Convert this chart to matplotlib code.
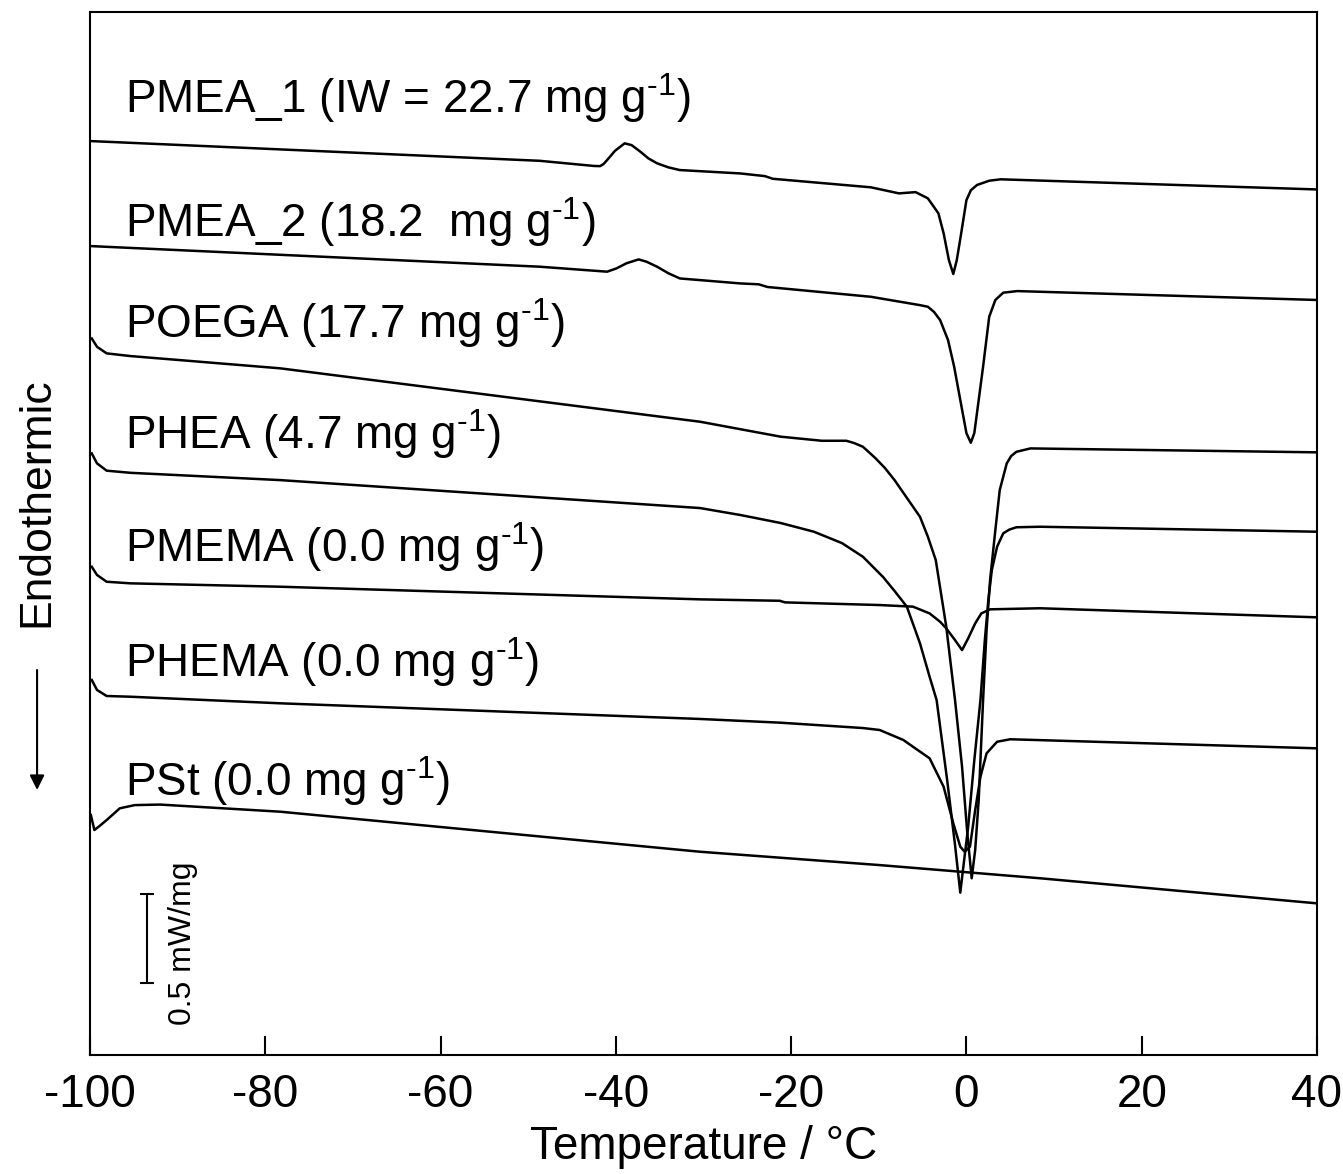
import matplotlib
matplotlib.use("Agg")
import matplotlib.pyplot as plt

# ── Data (heat flow in mW/mg, curves stacked) ──

PMEA1_T = [-100, -48.7, -42.5, -41.8, -41.4, -41.0, -40.1, -39.0, -38.2, -37.2,
           -36.3, -35.3, -34.0, -32.7, -25.8, -23.0, -22.1, -10.9, -7.7, -5.8,
           -4.4, -3.2, -2.6, -2.0, -1.5, -1.1, -0.6, 0.0, 0.5, 1.2,
           2.6, 3.9, 40]
PMEA1_HF = [5.135, 5.024, 4.995, 4.994, 5.006, 5.028, 5.080, 5.122, 5.112, 5.075,
            5.038, 5.010, 4.987, 4.972, 4.953, 4.938, 4.923, 4.875, 4.841, 4.848,
            4.813, 4.729, 4.616, 4.466, 4.388, 4.466, 4.616, 4.803, 4.858, 4.888,
            4.912, 4.920, 4.863]

PMEA2_T = [-100, -48.7, -41.0, -39.9, -38.8, -37.4, -36.5, -35.3, -34.0, -32.7,
           -25.8, -23.7, -22.7, -10.9, -5.3, -4.4, -3.7, -3.0, -2.1, -1.4,
           -0.7, 0.0, 0.5, 0.9, 1.4, 1.9, 2.6, 3.3, 4.2, 5.8, 40]
PMEA2_HF = [4.545, 4.429, 4.401, 4.420, 4.448, 4.470, 4.457, 4.429, 4.392, 4.363,
            4.335, 4.330, 4.315, 4.260, 4.213, 4.204, 4.175, 4.129, 4.017, 3.867,
            3.680, 3.494, 3.440, 3.494, 3.680, 3.867, 4.148, 4.242, 4.283, 4.292, 4.242]

POEGA_T = [-99.8, -99.2, -98.1, -95.4, -78.3, -30.4, -21.2, -16.5, -13.7, -12.8,
           -11.8, -10.4, -9.3, -8.2, -5.3, -4.4, -3.5, -2.3, -1.3, -0.5,
           0.1, 0.6, 1.0, 1.4, 1.9, 2.3, 2.7, 3.3, 3.8, 4.6,
           5.1, 5.7, 7.3, 40]
POEGA_HF = [4.026, 3.979, 3.942, 3.927, 3.858, 3.558, 3.474, 3.451, 3.451, 3.438,
            3.417, 3.354, 3.298, 3.230, 3.024, 2.912, 2.781, 2.406, 1.994, 1.620,
            1.246, 0.993, 1.152, 1.433, 1.994, 2.388, 2.669, 2.949, 3.174, 3.324,
            3.365, 3.389, 3.408, 3.386]

PHEA_T = [-99.8, -99.2, -98.1, -95.4, -78.3, -30.4, -25.8, -21.2, -17.4, -14.2,
          -11.8, -9.5, -8.2, -6.8, -5.3, -4.2, -3.4, -2.2, -1.3, -0.7,
          -0.35, 0.2, 0.9, 1.6, 2.1, 2.5, 2.9, 3.5, 4.2, 4.9,
          5.7, 8.4, 40]
PHEA_HF = [3.380, 3.324, 3.283, 3.271, 3.230, 3.073, 3.034, 2.989, 2.940, 2.876,
           2.799, 2.685, 2.607, 2.519, 2.313, 2.125, 1.994, 1.545, 1.180, 0.912,
           1.058, 1.283, 1.657, 1.994, 2.331, 2.556, 2.725, 2.856, 2.931, 2.952,
           2.965, 2.968, 2.940]

PMEMA_T = [-99.8, -99.2, -98.1, -95.4, -78.3, -30.4, -21.3, -20.7, -9.9, -6.1,
           -4.2, -3.0, -2.3, -1.3, -0.5, 0.2, 1.0, 1.7, 2.7, 8.4, 40]
PMEMA_HF = [2.743, 2.697, 2.659, 2.650, 2.631, 2.560, 2.552, 2.543, 2.528, 2.519,
            2.481, 2.434, 2.397, 2.331, 2.275, 2.341, 2.425, 2.481, 2.504, 2.510, 2.459]

PHEMA_T = [-99.8, -99.2, -98.1, -95.4, -78.3, -30.4, -21.2, -11.8, -9.9, -7.2,
           -6.1, -4.2, -2.6, -1.5, -0.7, -0.2, 0.4, 1.0, 1.6, 2.3,
           3.5, 5.0, 40]
PHEMA_HF = [2.107, 2.051, 2.017, 2.013, 1.976, 1.888, 1.867, 1.837, 1.826, 1.770,
            1.732, 1.667, 1.507, 1.302, 1.170, 1.142, 1.170, 1.376, 1.563, 1.695,
            1.760, 1.774, 1.723]

PST_T = [-99.9, -99.5, -98.9, -98.1, -96.6, -94.9, -92.0, -78.3, -30.4, -9.9, 8.4, 40]
PST_HF = [1.348, 1.264, 1.287, 1.320, 1.386, 1.404, 1.407, 1.367, 1.142, 1.067, 0.993, 0.852]

LABELS = [
    r"PMEA_1 (IW = 22.7 mg g$^{\text{-1}}$)",
    r"PMEA_2 (18.2  mg g$^{\text{-1}}$)",
    r"POEGA (17.7 mg g$^{\text{-1}}$)",
    r"PHEA (4.7 mg g$^{\text{-1}}$)",
    r"PMEMA (0.0 mg g$^{\text{-1}}$)",
    r"PHEMA (0.0 mg g$^{\text{-1}}$)",
    r"PSt (0.0 mg g$^{\text{-1}}$)",
]
XTICKS = [-100, -80, -60, -40, -20, 0, 20, 40]
SCALE_BAR = 0.5  # mW/mg

# ── Style ──
plt.rcParams.update({
    "font.family": ["Liberation Sans", "DejaVu Sans"],
    "mathtext.fontset": "custom",
    "mathtext.rm": "Liberation Sans",
    "mathtext.it": "Liberation Sans:italic",
    "mathtext.bf": "Liberation Sans:bold",
    "axes.unicode_minus": False,
    "axes.linewidth": 1.5,
})

curves = [(PMEA1_T, PMEA1_HF), (PMEA2_T, PMEA2_HF), (POEGA_T, POEGA_HF),
          (PHEA_T, PHEA_HF), (PMEMA_T, PMEMA_HF), (PHEMA_T, PHEMA_HF),
          (PST_T, PST_HF)]
label_y = [5.294, 4.597, 4.026, 3.404, 2.768, 2.125, 1.455]

fig = plt.figure(figsize=(13.43, 11.74), dpi=100)
ax = fig.add_axes([0.06701, 0.10136, 0.91363, 0.88842])

for (t, hf) in curves:
    ax.plot(t, hf, color="black", lw=1.8, solid_joinstyle="round")

for lab, ly in zip(LABELS, label_y):
    ax.text(-96.0, ly, lab, fontsize=33, ha="left", va="baseline")

# scale bar
ax.errorbar([-93.5], [0.654], yerr=SCALE_BAR / 2, color="black",
            lw=1.5, capsize=4.7, capthick=1.5)
ax.text(-89.4, 0.629, f"{SCALE_BAR} mW/mg", rotation=90, fontsize=23,
        ha="center", va="center")

ax.set_xlim(-100, 40)
ax.set_ylim(0, 5.86)
ax.set_yticks([])
ax.set_xticks(XTICKS)
ax.set_xticklabels([str(v) for v in XTICKS])
ax.tick_params(axis="x", direction="in", length=14, width=1.5,
               labelsize=33, pad=13)
ax.set_xlabel("Temperature / °C", fontsize=33, labelpad=6)

# endothermic arrow
fig.text(0.0276, 0.5724, "Endothermic", rotation=90, fontsize=32,
         ha="center", va="center")
ax.annotate("", xy=(0.0276, 0.3271), xytext=(0.0276, 0.4293),
            xycoords="figure fraction", textcoords="figure fraction",
            arrowprops=dict(arrowstyle="-|>", lw=1.5, color="black",
                            mutation_scale=22, shrinkA=0, shrinkB=0))

fig.savefig("out.png", dpi=100)
plt.close(fig)
